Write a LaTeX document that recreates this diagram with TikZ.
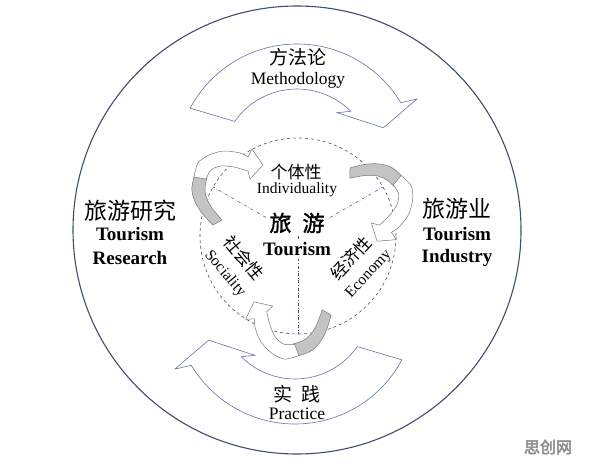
\documentclass[tikz,border=0pt]{standalone}
\usepackage{fontspec}
\setmainfont{Liberation Serif}
\newfontfamily\cjk{Noto Sans CJK SC}
\newfontfamily\cjkheavy[FakeBold=1.5]{Noto Sans CJK SC}
\newfontfamily\markfont[FakeBold=3]{Noto Sans CJK SC}
\definecolor{ringblue}{RGB}{62,78,112}
\definecolor{arrowblue}{RGB}{96,116,172}
\definecolor{ribbongray}{RGB}{196,196,196}
\definecolor{ribbonline}{RGB}{120,120,120}
\definecolor{markgray}{RGB}{140,140,140}

% big curved arrow around (0,0), tail left, head right
\newcommand{\bigarrow}{%
  \draw[bigarrow] (152:121) arc[start angle=152, end angle=31, radius=121]
    -- (28.8:137) -- (23.3:94) -- (52.4:66) -- (45:76)
    arc[start angle=45, end angle=145, radius=76] -- cycle;}

% small twisted arrow, upper left of the centre
\newcommand{\turnarrow}{%
  \draw[ribbon] plot[smooth, tension=0.7] coordinates {(-103,62) (-106,45) (-99,27) (-85,11)}
    -- plot[smooth, tension=0.7] coordinates {(-76,16) (-88,31) (-93,45) (-91,58)} -- cycle;
  \draw[ribbontop] plot[smooth] coordinates {(-104,59) (-100,73) (-89,81) (-74,85) (-58,83) (-50,79)}
    -- (-46,87) -- (-35,71) -- (-48,57)
    -- plot[smooth] coordinates {(-50,65) (-64,69) (-77,70) (-87,66) (-92,57)} -- cycle;}

\begin{document}
\begin{tikzpicture}
	[x=1pt, y=1pt,
	ring/.style={ringblue, line width=1.1pt},
	guide/.style={ringblue, dashed, line width=0.6pt},
	spoke/.style={ringblue, dash dot, line width=0.5pt},
	bigarrow/.style={draw=arrowblue, fill=white, line width=0.6pt},
	ribbon/.style={draw=ribbonline, fill=ribbongray, line width=0.5pt},
	ribbontop/.style={draw=ribbonline, fill=white, line width=0.5pt},
	zh/.style={font=\cjk\fontsize{#1}{#1}\selectfont, inner sep=1pt},
	en/.style={font=\fontsize{#1}{#1}\selectfont, inner sep=1pt},
	enb/.style={font=\bfseries\fontsize{#1}{#1}\selectfont, inner sep=1pt}]
	
	\useasboundingbox (0,0) rectangle (596,469);
	
	% Draw outer ring
	\draw[ring] (297,239) circle[radius=224];
	
	% Draw dashed circle and spokes
	\coordinate (O) at (298,233);
	\draw[guide] (O) circle[radius=98];
	\foreach \ang in {150, 30, 270}
		\draw[spoke] (O) -- ++(\ang:98);
	
	% Draw big arrows
	\begin{scope}[shift={(297,304)}]
		\bigarrow
	\end{scope}
	\begin{scope}[shift={(295,166)}, rotate=180]
		\bigarrow
	\end{scope}
	
	% Draw small arrows
	\foreach \rot in {0, -120, -240}
	{
		\begin{scope}[shift={(O)}, rotate=\rot]
			\turnarrow
		\end{scope}
	}
	
	% Top and bottom texts
	\node[zh=19] (method) at (298,412) {方法论};
	\node[en=17.5] (methodEn) at (298,389) {Methodology};
	\node[zh=19] (practice) at (297,75) {实\hspace{0.5em}践};
	\node[en=17.5] (practiceEn) at (297,55) {Practice};
	
	% Left and right texts
	\node[zh=23] (research) at (130,258) {旅游研究};
	\node[enb=19] (researchA) at (130,235) {Tourism};
	\node[enb=19] (researchB) at (130,211) {Research};
	\node[zh=23] (industry) at (457,260) {旅游业};
	\node[enb=19] (industryA) at (457,235) {Tourism};
	\node[enb=19] (industryB) at (457,211) {Industry};
	
	% Centre texts
	\node[zh=22, font=\cjkheavy\fontsize{22}{22}\selectfont, fill=white, inner sep=3pt] (tour) at (297,246) {旅\hspace{0.5em}游};
	\node[enb=19, fill=white, inner sep=3pt] (tourEn) at (297,220) {Tourism};
	\node[zh=17] (indiv) at (296,297) {个体性};
	\node[en=15.5] (indivEn) at (297,279) {Individuality};
	\node[zh=17, rotate=-50] (social) at (244,211) {社会性};
	\node[en=15.5, rotate=-50] (socialEn) at (225,195) {Sociality};
	\node[zh=17, rotate=47] (econ) at (351,211) {经济性};
	\node[en=15.5, rotate=47] (econEn) at (369,195) {Economy};
	
	% Watermark
	\node[font=\markfont\fontsize{16}{16}\selectfont, markgray] (mark) at (548,22) {思创网};
	
\end{tikzpicture}
\end{document}
